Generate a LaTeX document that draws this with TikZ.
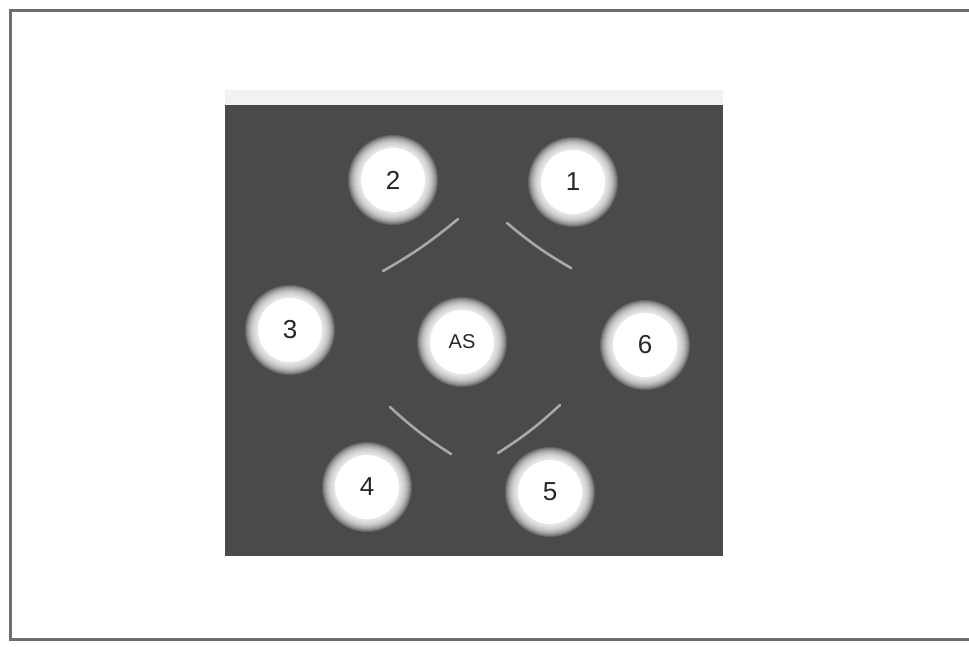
\documentclass[tikz,border=0pt]{standalone}
\usepackage{fontspec}
\setmainfont{Liberation Sans}
\definecolor{bgdark}{HTML}{4A4A4A}
\definecolor{framegray}{HTML}{6E6E6E}
\definecolor{arcgray}{HTML}{A8A8A8}
\newcommand{\glowat}[1]{%
  \foreach \r in {45,44,...,33} {\fill[white, opacity=0.15] (#1) circle[radius=\r pt];}
  \fill[white] (#1) circle[radius=32pt];}
\tikzset{
  ball/.style={circle, minimum size=64pt, inner sep=0pt,
    font=\fontsize{26}{30}\selectfont, text=black!85},
  arcline/.style={draw=arcgray, line width=2.6pt, line cap=round},
}
\begin{document}
\begin{tikzpicture}[x=1pt,y=-1pt]
\useasboundingbox (0,0) rectangle (969,646);
\fill[white] (0,0) rectangle (969,646);
% frame
\draw[framegray, line width=3pt] (969,10) -- (10,10) -- (10,639) -- (969,639);
% faint band above the square
\fill[black!5] (225,90) rectangle (723,105);
% dark square
\fill[bgdark] (225,105) rectangle (723,556);
% arcs
\coordinate (a1) at (383,271);
\coordinate (a2) at (458,219);
\coordinate (b1) at (507,223);
\coordinate (b2) at (571,268);
\coordinate (c1) at (390,407);
\coordinate (c2) at (451,454);
\coordinate (d1) at (498,453);
\coordinate (d2) at (560,405);
\draw[arcline] (a1) to[bend right=5] (a2);
\draw[arcline] (b1) to[bend right=5] (b2);
\draw[arcline] (c1) to[bend right=5] (c2);
\draw[arcline] (d1) to[bend right=5] (d2);
% glows
\coordinate (g2) at (393,180);
\coordinate (g1) at (573,182);
\coordinate (g3) at (290,330);
\coordinate (gAS) at (462,342);
\coordinate (g6) at (645,345);
\coordinate (g4) at (367,487);
\coordinate (g5) at (550,492);
\glowat{g2}\glowat{g1}\glowat{g3}\glowat{gAS}\glowat{g6}\glowat{g4}\glowat{g5}
% balls
\node[ball] (n2) at (g2) {2};
\node[ball] (n1) at (g1) {1};
\node[ball] (n3) at (g3) {3};
\node[ball, font=\fontsize{20}{24}\selectfont] (nAS) at (gAS) {AS};
\node[ball] (n6) at (g6) {6};
\node[ball] (n4) at (g4) {4};
\node[ball] (n5) at (g5) {5};
\end{tikzpicture}
\end{document}
